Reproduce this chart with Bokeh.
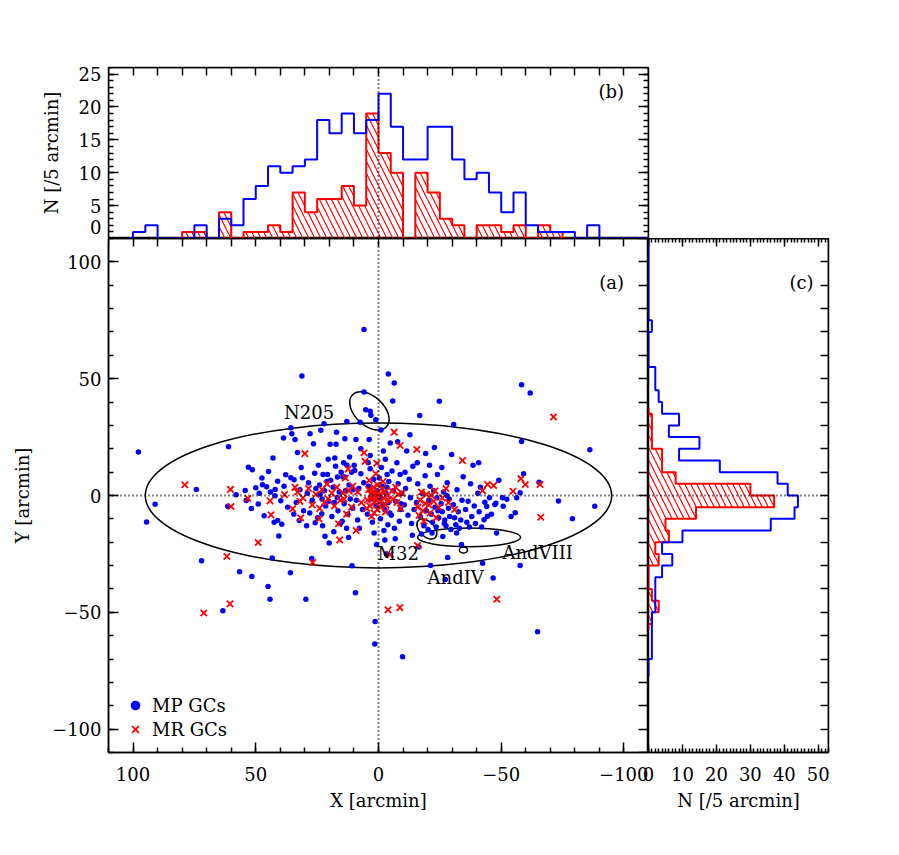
from bokeh.plotting import figure
from bokeh.layouts import column, row
from bokeh.models import (Range1d, LinearAxis, SingleIntervalTicker, FixedTicker,
                          Span, Label, Legend, LegendItem, CustomJSTickFormatter)
from bokeh.core.properties import value
from bokeh.embed import file_html
from bokeh.resources import INLINE

# ------------------------------------------------------------------ data
BIN = 5.0

# (b) histogram of X  (bin centres start at the first value and step by -BIN)
mp_x_start = 102.5
mp_x_counts = [0, 1, 2, 0, 0, 0, 2, 0, 3, 2, 6, 8, 11, 10, 11, 12, 18, 16, 19, 16, 18,
               22, 17, 12, 12, 17, 17, 12, 9, 10, 7, 4, 7, 2, 1, 1, 1, 0, 2, 0, 0, 0, 0, 0]
mr_x_start = 82.5
mr_x_counts = [0, 1, 1, 0, 4, 0, 1, 1, 2, 1, 7, 4, 6, 6, 8, 5, 19,
               13, 10, 0, 10, 7, 3, 2, 0, 2, 2, 1, 2, 0, 2, 1, 0]

# (c) histogram of Y
mp_y_start = 112.5
mp_y_counts = [0, 0, 0, 0, 0, 0, 0, 0, 1, 0, 0, 0, 2, 2, 3, 4, 9, 6, 15, 9, 21, 38, 41,
               44, 43, 36, 10, 4, 7, 4, 2, 2, 2, 1, 1, 1, 1, 0, 0]
mr_y_start = 37.5
mr_y_counts = [0, 1, 1, 1, 4, 4, 8, 30, 37, 14, 5, 6, 2, 3, 0, 0, 1, 3, 1, 0]

# count-axis tick labels of (b); in the original the "0" is printed raised above the baseline
top_ticks = [5, 10, 15, 20, 25]
top_zero_label_at = 1.7

# (a) positions of metal-poor GCs
mp_x = [
    97.8,
    94.5, 91.0,
    74.2, 72.1,
    63.4, 61.4, 61.1,
    58.0, 56.6,
    54.3, 53.9, 53.0, 51.4, 51.8, 51.6,
    50.0, 49.0, 48.6, 47.3, 46.6, 45.6, 45.0, 47.5,
    44.8, 44.2, 43.3, 42.5, 42.2, 42.1, 41.1, 41.1, 40.6, 44.0, 43.0,
    39.8, 39.4, 38.7, 37.8, 35.9, 35.7, 35.7, 35.3, 37.0, 38.5,
    34.4, 34.0, 33.0, 32.3, 31.2, 31.0, 33.5, 32.0, 30.5, 34.5, 31.5,
    29.6, 29.3, 27.9, 27.2, 26.5, 25.8, 28.5, 27.0, 29.0, 26.0, 28.0, 25.5,
    23.5, 22.2, 22.6, 23.1, 21.8, 20.8, 20.1, 24.5, 24.0, 23.0, 22.0, 21.5, 20.5, 24.8, 21.0, 22.8, 20.3, 23.8,
    19.7, 17.3, 17.1, 16.7, 19.0, 18.5, 18.0, 17.5, 16.5, 16.0, 15.5, 19.5, 18.2, 15.2, 16.8, 17.8,
    14.5, 13.7, 13.7, 12.9, 12.9, 10.8, 14.0, 13.5, 12.5, 12.0, 11.5, 11.0, 10.5, 14.8, 13.0, 11.8, 10.3, 14.2, 12.2,
    9.9, 9.7, 9.4, 9.2, 7.5, 7.2, 7.2, 5.9, 5.9, 5.2, 9.0, 8.0, 6.5, 8.5, 6.0, 7.8,
    3.4, 3.1, 1.1, 3.4, 3.4, 1.4, 1.5, 4.0, 3.0, 2.0, 1.0, 4.5, 2.5, 0.5, 3.8, 1.8, 4.2, 0.8,
    -1.0, -2.0, -3.5, -0.5, -1.5, -2.5, -3.0, -4.0, -1.2, -2.8, -4.2, -0.8, -3.8, -2.2, -4.8, -4.0, -3.2, -0.3, -4.6, -1.8, -2.6, -3.4,
    -6.4, -5.8, -9.8, -6.0, -7.0, -8.0, -9.0, -5.5, -7.5, -8.5, -6.5, -9.5, -5.2, -7.8, -8.8, -6.8, -9.2,
    -10.5, -11.0, -12.0, -12.5, -13.0, -13.5, -14.0, -14.5, -11.5, -12.8, -13.8, -10.8,
    -16.8, -15.5, -16.0, -17.0, -18.0, -18.5, -19.0, -19.5, -15.8, -17.5, -16.5, -19.2,
    -20.5, -21.0, -21.5, -22.0, -22.5, -23.0, -23.5, -24.0, -24.5, -20.8, -21.8, -22.8, -23.8, -24.8, -20.2, -21.2, -24.2,
    -25.5, -26.0, -26.5, -27.0, -27.5, -28.0, -28.5, -29.0, -29.5, -25.8, -26.8, -27.8, -28.8, -29.8, -26.2, -28.2, -27.2,
    -30.6, -30.5, -31.0, -31.5, -32.0, -32.5, -33.0, -33.5, -34.0, -34.5, -31.8, -33.8,
    -35.5, -36.0, -36.5, -37.0, -37.5, -38.0, -38.5, -39.0, -39.5,
    -43.3, -44.1, -43.0, -44.4, -42.4, -40.5, -41.0, -42.0, -40.8, -41.5,
    -47.4, -47.8, -48.1, -46.7, -45.2, -49.0, -46.0,
    -50.5, -52.3, -50.8, -54.0,
    -56.3, -55.7, -57.7, -58.3, -58.3, -59.1, -57.7,
    -61.8, -64.8, -65.4, -73.3, -79.0, -86.1, -88.1,
]
mp_y = [
    18.6,
    -11.3, -3.7,
    2.6, -27.9,
    -49.3, -4.6, 20.9,
    0.3, -32.6,
    2.1, -2.1, 12.1, 11.0, -5.6, -34.7,
    3.3, -3.6, 1.0, 4.6, -8.7, 3.7, -39.0, 7.5,
    10.3, -44.4, -26.7, -11.4, -0.1, 2.6, -10.7, 6.1, -17.3, 1.5, 16.0,
    -2.3, -12.3, 24.6, 8.9, -33.1, 29.0, 7.6, 26.4, -5.0, 4.0,
    6.7, 24.0, 18.4, -10.7, 51.1, 7.6, -3.0, 2.5, -6.5, -8.0, 12.0,
    -44.4, -12.9, 26.4, -27.0, 22.2, -11.7, 5.5, -2.0, 1.0, 9.5, -7.5, 3.0,
    27.9, 30.7, 9.0, -7.8, -17.4, 9.0, -20.3, 13.0, 4.5, -1.5, 2.0, -4.5, 15.5, -9.5, 6.0, -13.0, -2.5, 0.5,
    21.9, 21.9, 27.1, 7.9, -9.0, 3.5, -3.0, 12.5, -6.5, 1.5, -12.0, 6.5, -15.5, 10.0, -1.0, 16.0,
    7.9, 7.9, 24.3, 31.7, 12.9, -30.1, -3.5, 2.0, -8.0, 4.5, -1.5, 10.0, -5.5, -11.0, -14.0, 16.5, 2.5, 14.0, -18.0,
    12.9, 10.7, -41.6, 24.0, 31.4, 20.0, 9.3, 71.0, 44.3, 36.7, -2.0, 3.0, -6.0, -10.5, 5.5, -14.0,
    36.1, 34.3, 32.4, 17.1, 11.4, -53.9, -63.6, 4.0, -1.5, 7.0, -4.5, -8.0, -11.5, 2.0, 24.0, -16.0, 14.0, -21.0,
    28.0, 19.0, 9.0, -1.0, 4.0, -6.0, 1.0, -3.0, 12.0, 15.5, 6.0, -10.0, -12.5, -15.0, 22.5, 52.0, -25.0, 7.5, -7.5, -4.0, -19.0, 3.5,
    48.1, 40.5, -69.0, 2.0, -2.5, 5.0, -6.0, 10.5, 14.0, -11.0, -14.0, 1.0, -8.5, 23.0, 9.0, -18.5, -3.5,
    -4.0, 3.0, -8.5, 7.0, -1.0, -12.0, 12.5, -6.0, 19.0, 26.0, -17.0, 10.0,
    34.2, -3.0, 5.0, -9.0, 1.0, -13.0, 8.5, -6.5, 14.0, -16.5, -22.0, 18.0,
    -2.0, 4.0, -8.0, -11.5, 2.0, -5.0, -13.5, 9.0, -9.5, 13.0, -16.0, 20.5, -1.0, 40.3, -14.5, -30.0, -6.5,
    -3.5, -7.0, 1.5, -10.5, -13.0, 5.5, -5.5, -9.0, -14.5, 12.0, -12.0, 0.0, -1.5, 17.5, -17.5, -26.5, -36.0,
    30.4, -4.0, -9.5, -12.5, 2.5, -7.0, -14.0, -10.5, -2.0, 8.0, -16.0, -21.0,
    -6.0, -11.5, -2.5, -13.5, 5.0, -9.0, 13.0, -4.5, -12.0,
    -2.9, -4.7, -10.4, -8.9, -29.0, 1.0, -7.0, -13.5, 14.0, 3.5,
    -3.9, -3.3, -16.0, -35.3, -1.0, 6.5, -8.0,
    -1.0, -1.6, -4.6, -9.0,
    -1.0, -7.4, 1.2, 47.4, 23.1, 9.3, -30.0,
    43.9, -58.3, 5.7, -2.4, -10.0, 19.6, -4.6,
]

# (a) positions of metal-rich GCs
mr_x = [
    78.9, 71.2,
    60.3, 60.1, 61.8, 60.5,
    53.2, 49.0, 43.8, 44.2, 38.3,
    35.0, 31.7, 30.0, 33.0, 32.0, 34.0, 30.8,
    26.8, 28.5, 27.0, 25.5,
    24.2, 23.0, 22.0, 21.0, 20.5, 24.0,
    16.3, 15.8, 19.0, 18.0, 17.0, 15.5,
    12.4, 13.5, 14.0, 12.0, 11.0, 10.5, 13.0, 14.5,
    9.1, 5.9, 5.5, 7.0, 8.5,
    0.7, 1.1, 4.5, 4.0, 3.5, 3.0, 2.5, 2.0, 1.5, 1.0, 0.5, 0.3, 1.8, 2.8, 3.8, 0.8, 2.2, 4.8, 1.3,
    -0.5, -1.0, -1.5, -2.0, -2.5, -3.0, -3.5, -4.0, -0.8, -1.8, -4.7, -3.9, -2.8,
    -6.4, -8.8, -8.7, -5.5, -6.0, -7.0, -7.5, -8.0, -9.0, -9.5,
    -15.6, -15.9, -16.0, -16.5, -17.0, -17.5, -18.0, -18.5, -19.0, -19.5,
    -20.5, -21.0, -21.5, -22.5, -23.0, -23.5, -24.5,
    -26.0, -27.5, -28.5,
    -34.2, -31.0,
    -42.4, -44.4, -46.9, -48.2, -54.8, -58.0, -59.8, -65.8, -66.1, -71.3,
]
mr_y = [
    4.6, -50.3,
    2.6, -4.7, -26.1, -46.4,
    -1.3, -20.1, -8.3, -2.3, 0.4,
    -5.7, -9.6, 17.9, 1.5, -2.5, 3.5, -1.0,
    -28.7, 3.0, -4.0, 0.5,
    -10.0, 2.5, -3.0, 5.0, -1.5, -5.5,
    -12.1, -19.0, 1.0, -4.5, 3.5, -2.0,
    11.3, 7.5, -1.5, 2.0, -5.0, 4.0, -8.0, 1.0,
    -15.0, 18.3, 14.6, -3.0, 1.5,
    13.8, 9.3, -2.0, 2.5, -4.5, 0.5, -1.0, 3.5, -3.0, 1.0, -6.0, 4.5, -7.5, -9.0, 6.5, -2.0, 1.5, -5.5, -0.5,
    0.5, -2.5, 3.0, -1.0, 1.5, -4.0, 0.0, -2.0, -5.0, 6.0, -25.3, -48.9, -7.0,
    27.1, 21.4, -48.0, 2.0, -1.5, 3.5, -3.0, 0.5, -5.5, 1.0,
    19.7, -21.4, -5.0, -8.5, -2.0, 1.5, -6.5, -11.0, -3.5, 0.5,
    -4.0, -7.5, 0.0, -2.5, 2.0, -9.5, -5.0,
    -1.0, 3.0, -3.0,
    15.0, -6.0,
    2.1, 4.7, 4.3, -44.4, 1.8, 7.2, 4.7, 4.7, -9.3, 33.6,
]
assert len(mp_x) == len(mp_y) and len(mr_x) == len(mr_y)

# galaxy isophotes drawn in (a)
gal_x = [0.0, 3.7, -19.7, -36.9, -34.6]
gal_y = [0.0, 36.2, -14.3, -17.9, -23.3]
gal_w = [190.0, 19.0, 9.8, 42.0, 3.3]
gal_h = [62.0, 12.4, 6.4, 8.0, 2.6]
gal_a = [0.0, -43.0, -45.0, 0.0, 0.0]
gal_names = ["N205", "M32", "AndIV", "AndVIII"]
name_x = [38.5, 0.4, -20.0, -50.5]
name_y = [35.7, -25.0, -35.0, -24.3]

# ------------------------------------------------------------------ style helpers
FONT = "DejaVu Serif"
FS = "18px"
BLUE = "#0000ff"
RED = "#ff0000"
LW = 1.5

signed = CustomJSTickFormatter(code="""
    const v = Math.round(tick);
    return (v < 0 ? '\\u2212' : '') + Math.abs(v).toString();
""")


def make_axis(ticker, tick_in, minor_in, label=None, show_labels=True, fixed=None,
              standoff=7, label_standoff=10, line=True, **kw):
    ax = LinearAxis(ticker=ticker, **kw)
    if fixed is not None:
        ax.fixed_location = fixed
    ax.major_tick_in = tick_in
    ax.major_tick_out = 0
    ax.minor_tick_in = minor_in
    ax.minor_tick_out = 0
    ax.axis_line_width = LW
    ax.major_tick_line_width = LW
    ax.minor_tick_line_width = LW
    ax.axis_line_color = "black" if line else None
    ax.major_tick_line_color = "black" if tick_in else None
    ax.minor_tick_line_color = "black" if minor_in else None
    ax.major_label_text_font = FONT
    ax.major_label_text_font_size = FS
    ax.major_label_text_color = "black" if show_labels else None
    ax.major_label_standoff = standoff
    ax.formatter = signed
    if label:
        ax.axis_label = label
        ax.axis_label_text_font = FONT
        ax.axis_label_text_font_size = FS
        ax.axis_label_text_font_style = "normal"
        ax.axis_label_text_color = "black"
        ax.axis_label_standoff = label_standoff
    return ax


def base_fig(fw, fh, xr, yr, left, right, top, bottom, **kw):
    p = figure(frame_width=fw, frame_height=fh, x_range=xr, y_range=yr,
               x_axis_location=None, y_axis_location=None,
               output_backend="svg", toolbar_location=None,
               min_border_left=left, min_border_right=right,
               min_border_top=top, min_border_bottom=bottom,
               outline_line_color="black", outline_line_width=LW,
               background_fill_color="white", **kw)
    p.grid.visible = False
    return p


def dotted(dim):
    return Span(location=0, dimension=dim, line_color="black", line_width=2, line_dash="1 3")


def plabel(x, y, text, align="right", baseline="middle", **kw):
    return Label(x=x, y=y, text=text, text_align=align, text_baseline=baseline,
                 text_font=FONT, text_font_size=FS, text_color="black", **kw)


def vstep(centres, counts):
    xs, ys = [], []
    n = len(centres)
    for i, (c, v) in enumerate(zip(centres, counts)):
        hi = c if i == 0 else 0.5 * (centres[i - 1] + c)
        lo = c if i == n - 1 else 0.5 * (centres[i + 1] + c)
        xs += [v, v]
        ys += [hi, lo]
    return xs, ys


mp_xc = [mp_x_start - BIN * i for i in range(len(mp_x_counts))]
mr_xc = [mr_x_start - BIN * i for i in range(len(mr_x_counts))]
mp_yc = [mp_y_start - BIN * i for i in range(len(mp_y_counts))]
mr_yc = [mr_y_start - BIN * i for i in range(len(mr_y_counts))]

# ------------------------------------------------------------------ (b) top panel
top = base_fig(540, 171, Range1d(110, -110), Range1d(0, 26), 108, 10, 67, 0)
# labels only (including the raised "0"), with the axis title
lab_ax = make_axis(FixedTicker(ticks=[top_zero_label_at] + top_ticks), 0, 0,
                   label="N [/5 arcmin]", label_standoff=14, line=False)
lab_ax.major_label_overrides = {top_zero_label_at: "0"}
top.add_layout(lab_ax, "left")
# tick marks on both vertical sides
top.add_layout(make_axis(FixedTicker(ticks=top_ticks, minor_ticks=list(range(1, 27))),
                         10, 5, show_labels=False, fixed=110), "left")
top.add_layout(make_axis(FixedTicker(ticks=top_ticks, minor_ticks=list(range(1, 27))),
                         10, 5, show_labels=False, fixed=-110), "right")
top.add_layout(make_axis(SingleIntervalTicker(interval=10, num_minor_ticks=0),
                         8, 0, show_labels=False, fixed=26), "above")

top.quad(left=[c + BIN / 2 for c in mr_xc], right=[c - BIN / 2 for c in mr_xc],
         bottom=0, top=mr_x_counts, fill_color=None, line_color=None,
         hatch_pattern="left_diagonal_line", hatch_color=RED, hatch_weight=1.2, hatch_scale=12)
top.step(x=mr_xc, y=mr_x_counts, mode="center", line_color=RED, line_width=2)
top.step(x=mp_xc, y=mp_x_counts, mode="center", line_color=BLUE, line_width=2)
top.add_layout(dotted("height"))
top.add_layout(plabel(-100, 22.4, "(b)"))

# ------------------------------------------------------------------ (a) main panel
main = base_fig(540, 514, Range1d(110, -110), Range1d(-110, 110), 108, 0, 0, 80,
                border_fill_color=None)
main.add_layout(make_axis(SingleIntervalTicker(interval=50, num_minor_ticks=5), 10, 5,
                          label="X [arcmin]", standoff=14, label_standoff=6), "below")
main.add_layout(make_axis(SingleIntervalTicker(interval=50, num_minor_ticks=5), 10, 5,
                          label="Y [arcmin]", standoff=7, label_standoff=16), "left")
main.add_layout(make_axis(SingleIntervalTicker(interval=10, num_minor_ticks=0), 8, 0,
                          show_labels=False, fixed=110), "above")
main.add_layout(make_axis(SingleIntervalTicker(interval=10, num_minor_ticks=0), 10, 0,
                          show_labels=False, fixed=-110), "right")

main.ellipse(x=gal_x, y=gal_y, width=gal_w, height=gal_h, angle=gal_a, angle_units="deg",
             fill_color=None, line_color="black", line_width=LW)
r_mp = main.scatter(x=mp_x, y=mp_y, marker="circle", size=5.5, fill_color=BLUE, line_color=None)
r_mr = main.scatter(x=mr_x, y=mr_y, marker="x", size=9, line_color=RED, line_width=1.8)
main.text(x=name_x, y=name_y, text=gal_names, text_font=value(FONT), text_font_size=FS,
          text_align="left", text_baseline="alphabetic", text_color="black")
main.add_layout(dotted("height"))
main.add_layout(dotted("width"))
main.add_layout(plabel(-100, 91, "(a)"))

legend = Legend(items=[LegendItem(label="MP GCs", renderers=[r_mp]),
                       LegendItem(label="MR GCs", renderers=[r_mr])],
                location=(15, 11), padding=0, margin=0, spacing=0,
                glyph_width=24, glyph_height=24, label_height=24, label_standoff=5,
                label_text_font=FONT, label_text_font_size=FS, label_text_baseline="middle",
                label_text_color="black",
                background_fill_alpha=0, border_line_color=None)
main.add_layout(legend)

# ------------------------------------------------------------------ (c) right panel
rp = base_fig(180, 514, Range1d(0, 53), Range1d(-110, 110), 12, 20, 0, 80,
              border_fill_color=None, margin=(0, 0, 0, -12))
rp.add_layout(make_axis(SingleIntervalTicker(interval=10, num_minor_ticks=10), 8, 4,
                        label="N [/5 arcmin]", standoff=14, label_standoff=6), "below")
rp.add_layout(make_axis(SingleIntervalTicker(interval=10, num_minor_ticks=10), 8, 4,
                        show_labels=False, fixed=110), "above")
rp.add_layout(make_axis(SingleIntervalTicker(interval=10, num_minor_ticks=0), 8, 0,
                        show_labels=False, fixed=53), "right")

rp.quad(left=0, right=mr_y_counts, bottom=[c - BIN / 2 for c in mr_yc],
        top=[c + BIN / 2 for c in mr_yc], fill_color=None, line_color=None,
        hatch_pattern="left_diagonal_line", hatch_color=RED, hatch_weight=1.2, hatch_scale=12)
sx, sy = vstep(mr_yc, mr_y_counts)
rp.line(x=sx, y=sy, line_color=RED, line_width=2)
sx, sy = vstep(mp_yc, mp_y_counts)
rp.line(x=sx, y=sy, line_color=BLUE, line_width=2)
rp.add_layout(dotted("width"))
rp.add_layout(plabel(48.6, 91, "(c)"))

layout = column(top, row(main, rp))
open("out.html", "w").write(file_html(layout, INLINE))
